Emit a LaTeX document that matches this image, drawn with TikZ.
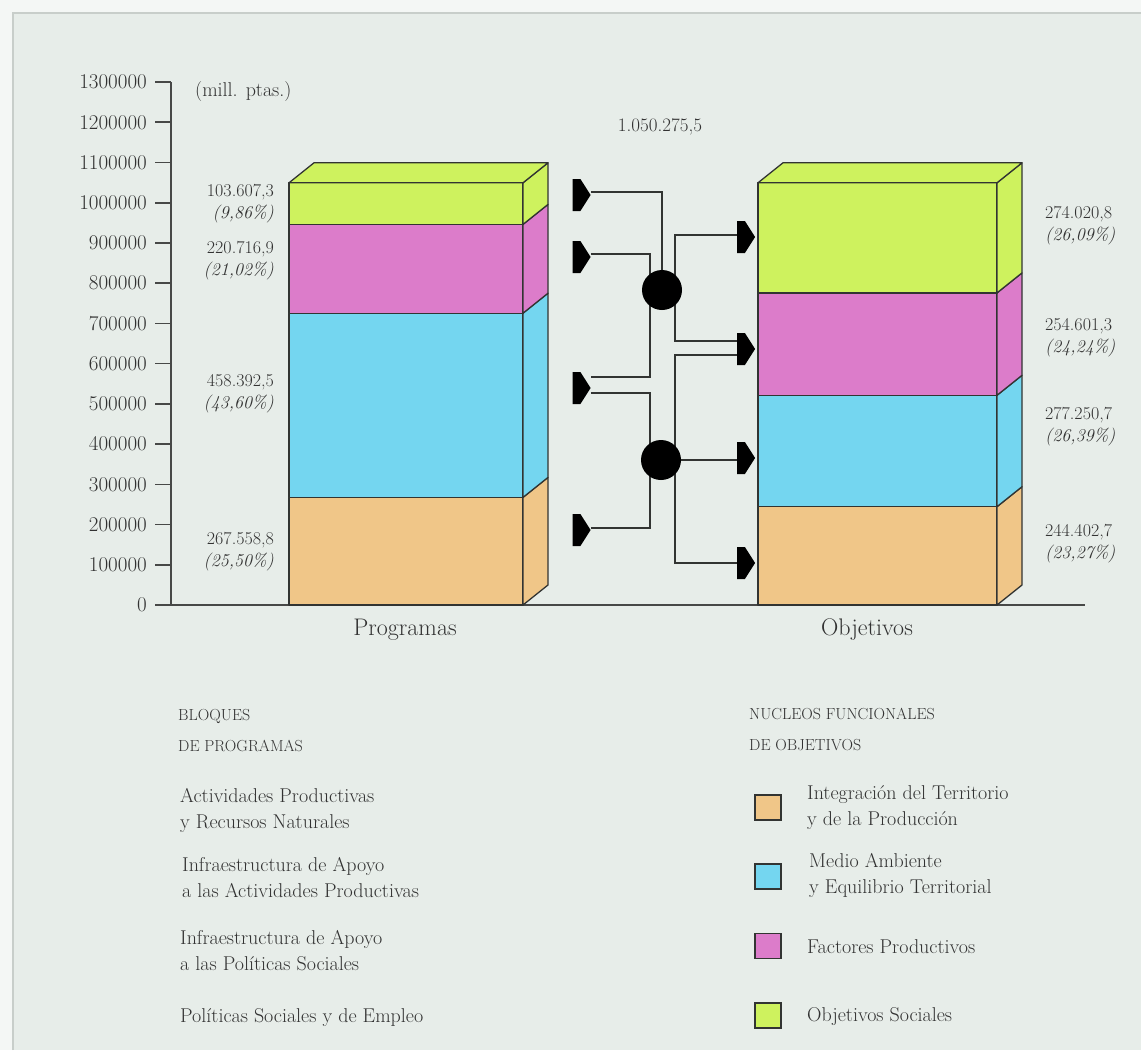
\documentclass[tikz,border=0pt]{standalone}
\usepackage{fontspec}
\usetikzlibrary{shapes.symbols}
\definecolor{paper}{RGB}{231,237,233}
\definecolor{outside}{RGB}{244,247,245}
\definecolor{framec}{RGB}{200,206,202}
\definecolor{ink}{RGB}{50,50,50}
\definecolor{edge}{RGB}{50,52,50}
\definecolor{cgreen}{RGB}{206,242,94}
\definecolor{cpink}{RGB}{220,124,202}
\definecolor{cblue}{RGB}{116,214,240}
\definecolor{corange}{RGB}{240,198,136}
\pgfdeclarelayer{back}
\pgfdeclarelayer{conn}
\pgfsetlayers{back,conn,main}
% one storey of a 3-D stacked column: x-left, x-right, y-top, y-bottom, colour
\newcommand\barseg[5]{%
  \filldraw[fill=#5,draw=edge,line width=1.3pt,line join=round]
    (#1,#4) rectangle (#2,#3);
  \filldraw[fill=#5,draw=edge,line width=1.3pt,line join=round]
    (#2,#4) -- ++(25,-20) -- ({#2+25},{#3-20}) -- (#2,#3) -- cycle;
}
% lid of a column: x-left, x-right, y-top, colour
\newcommand\barlid[4]{%
  \filldraw[fill=#4,draw=edge,line width=1.3pt,line join=round]
    (#1,#3) -- ++(25,-20) -- ({#2+25},{#3-20}) -- (#2,#3) -- cycle;
}
\begin{document}
\begin{tikzpicture}[x=1pt,y=-1pt,
  ptxt/.style={inner sep=0pt,text=ink},
  ticklab/.style={ptxt,anchor=east,font=\fontsize{21}{24}\selectfont},
  vallab/.style={ptxt,font=\fontsize{18}{22}\selectfont},
  legtxt/.style={ptxt,anchor=west,align=left,font=\fontsize{20}{26}\selectfont},
  leghead/.style={ptxt,anchor=west,align=left,font=\fontsize{16}{31}\selectfont},
  catlab/.style={ptxt,font=\fontsize{24}{28}\selectfont},
  flag/.style={signal,signal to=east,signal pointer angle=115,fill=black,
    draw=none,minimum width=18pt,minimum height=32pt,inner sep=0pt},
  hub/.style={circle,fill=black,minimum size=40pt,inner sep=0pt},
  wire/.style={draw=edge,line width=1.6pt},
  swatch/.style={draw=edge,line width=1.5pt,minimum width=26pt,minimum height=25pt,inner sep=0pt},
  axisline/.style={draw=edge!90,line width=1.6pt}]
\useasboundingbox (0,0) rectangle (1141,1050);
\begin{pgfonlayer}{back}
  \fill[outside] (0,0) rectangle (1141,1050);
  \fill[paper] (13,13) rectangle (1141,1050);
  \draw[framec,line width=2pt] (13,1050) -- (13,13) -- (1141,13);
\end{pgfonlayer}

% value axis
\draw[axisline] (155,605) -- (1085,605);
\draw[axisline] (171,605) -- (171,82);
\foreach \k in {0,...,13}{
  \draw[axisline] (155,{605-40.23*\k}) -- (171,{605-40.23*\k});
  \node[ticklab] (t\k) at (147,{605-40.23*\k}) {\ifnum\k=0 0\else\k00000\fi};
}
\node[ptxt,anchor=west,font=\fontsize{20}{24}\selectfont] (unit) at (195,92) {(mill. ptas.)};
\node[ptxt,font=\fontsize{19}{22}\selectfont] (total) at (660,127) {1.050.275,5};

% Programas column
\barseg{289}{523}{497.4}{605}{corange}
\barseg{289}{523}{313.2}{497.4}{cblue}
\barseg{289}{523}{224.4}{313.2}{cpink}
\barseg{289}{523}{182.8}{224.4}{cgreen}
\barlid{289}{523}{182.8}{cgreen}

% Objetivos column
\barseg{758}{997}{506.7}{605}{corange}
\barseg{758}{997}{395.3}{506.7}{cblue}
\barseg{758}{997}{292.9}{395.3}{cpink}
\barseg{758}{997}{182.8}{292.9}{cgreen}
\barlid{758}{997}{182.8}{cgreen}

\node[catlab] (prog) at (405,630) {Programas};
\node[catlab] (obj) at (867,630) {Objetivos};

% amounts beside the columns
\node[vallab,anchor=east,align=right] (p4) at (274,204) {103.607,3\\\textit{(9,86\%)}};
\node[vallab,anchor=east,align=right] (p3) at (274,261) {220.716,9\\\textit{(21,02\%)}};
\node[vallab,anchor=east,align=right] (p2) at (274,394) {458.392,5\\\textit{(43,60\%)}};
\node[vallab,anchor=east,align=right] (p1) at (274,552) {267.558,8\\\textit{(25,50\%)}};
\node[vallab,anchor=west,align=left] (o4) at (1045,226) {274.020,8\\\textit{(26,09\%)}};
\node[vallab,anchor=west,align=left] (o3) at (1045,337.5) {254.601,3\\\textit{(24,24\%)}};
\node[vallab,anchor=west,align=left] (o2) at (1045,426.5) {277.250,7\\\textit{(26,39\%)}};
\node[vallab,anchor=west,align=left] (o1) at (1045,544) {244.402,7\\\textit{(23,27\%)}};

% redistribution network
\node[flag] (A1) at (576.5,195) {};
\node[flag] (A2) at (576.5,257) {};
\node[flag] (A3) at (576.5,388) {};
\node[flag] (A4) at (576.5,530) {};
\node[flag] (B1) at (741,237) {};
\node[flag] (B2) at (741,349) {};
\node[flag] (B3) at (741,458) {};
\node[flag] (B4) at (741,563) {};
\node[hub] (C1) at (662,290) {};
\node[hub] (C2) at (661,460) {};
\begin{pgfonlayer}{conn}
  \draw[wire] ([yshift=3pt]A1.east) -| (C1.center);
  \draw[wire] ([yshift=3pt]A2.east) -| ([xshift=-12pt]C1.center) |- ([yshift=11pt]A3.east);
  \draw[wire] ([yshift=-5pt]A3.east) -| ([xshift=-11pt]C2.center) |- ([yshift=2pt]A4.east);
  \draw[wire] ([yshift=2pt]B1.west) -| ([xshift=13pt]C1.center) |- ([yshift=8pt]B2.west);
  \draw[wire] ([yshift=-6pt]B2.west) -| ([xshift=14pt]C2.center) |- (B4.west);
  \draw[wire] (C2.center) -- (C2.center -| B3.west);
\end{pgfonlayer}

% legend: programme blocks
\node[leghead] (h1) at (178,730.5) {BLOQUES\\DE PROGRAMAS};
\node[legtxt] (l1) at (180,810) {Actividades Productivas\\y Recursos Naturales};
\node[legtxt] (l2) at (182,877.5) {Infraestructura de Apoyo\\a las Actividades Productivas};
\node[legtxt] (l3) at (180,951) {Infraestructura de Apoyo\\a las Políticas Sociales};
\node[legtxt] (l4) at (180,1018) {Políticas Sociales y de Empleo};

% legend: objective groups
\node[leghead] (h2) at (749,729) {NUCLEOS FUNCIONALES\\DE OBJETIVOS};
\node[swatch,fill=corange] (s1) at (768,807.5) {};
\node[swatch,fill=cblue] (s2) at (768,876.5) {};
\node[swatch,fill=cpink] (s3) at (768,946) {};
\node[swatch,fill=cgreen] (s4) at (768,1015.5) {};
\node[legtxt] (r1) at (807,807.5) {Integración del Territorio\\y de la Producción};
\node[legtxt] (r2) at (809,875.5) {Medio Ambiente\\y Equilibrio Territorial};
\node[legtxt] (r3) at (807,947) {Factores Productivos};
\node[legtxt] (r4) at (807,1017) {Objetivos Sociales};
\end{tikzpicture}
\end{document}
